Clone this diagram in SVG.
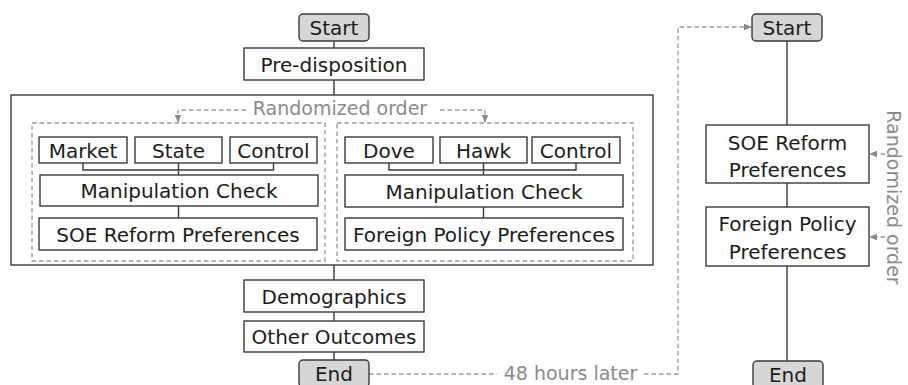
<svg xmlns="http://www.w3.org/2000/svg" width="908" height="385" viewBox="0 0 908 385">
<style>
.box{fill:#fff;stroke:#3a3a3a;stroke-width:1.4}
.term{fill:#d6d6d6;stroke:#3a3a3a;stroke-width:1.4}
.dbox{fill:none;stroke:#9a9a9a;stroke-width:1.3;stroke-dasharray:4.5 3}
.t{font-family:"DejaVu Sans",sans-serif;font-size:20px;fill:#1c1c1c;text-anchor:middle}
.g{font-family:"DejaVu Sans",sans-serif;font-size:19px;fill:#8a8a8a;text-anchor:middle}
.ln{fill:none;stroke:#3a3a3a;stroke-width:1.4}
.dl{fill:none;stroke:#9a9a9a;stroke-width:1.3;stroke-dasharray:4.5 3}
</style>
<defs>
<marker id="ah" viewBox="0 0 8 8" refX="7" refY="4" markerWidth="8" markerHeight="8" markerUnits="userSpaceOnUse" orient="auto">
<path d="M0,0.8 L8,4 L0,7.2 Z" fill="#8a8a8a"/>
</marker>
</defs>

<g id="outer-block">
<rect class="box" x="11" y="95" width="642" height="170"/>
</g>
<g id="group-left">
<rect class="dbox" x="32" y="123" width="293" height="138"/>
</g>
<g id="group-right">
<rect class="dbox" x="337" y="123" width="296" height="138"/>
</g>

<g id="connectors">
<path class="ln" d="M334,41 V48 M334,80 V95 M334,265 V280 M334,312 V321 M334,352 V360"/>
<path class="ln" d="M83,163 V170 H273.5 V163 M178.5,163 V175 M178.5,206 V218"/>
<path class="ln" d="M389,163 V170 H576 V163 M483.5,163 V175 M483.5,207 V218"/>
<path class="ln" d="M787,41 V125 M787,183 V207 M787,266 V361"/>
<path class="dl" d="M246,110 H178 V122" marker-end="url(#ah)"/>
<path class="dl" d="M440,110 H485 V122" marker-end="url(#ah)"/>
<path class="dl" d="M369,374 H497"/>
<path class="dl" d="M644,374 H678 V27 H751" marker-end="url(#ah)"/>
<path class="dl" d="M885,154 H870" marker-end="url(#ah)"/>
<path class="dl" d="M885,237 H870" marker-end="url(#ah)"/>
</g>

<g id="label-randomized-top"><text class="g" x="340" y="115">Randomized order</text></g>
<g id="label-48h"><text class="g" x="570.5" y="380">48 hours later</text></g>
<g id="label-randomized-right"><text class="g" x="0" y="0" transform="translate(887,197.5) rotate(90)">Randomized order</text></g>

<g id="start-left"><rect class="term" x="299" y="14" width="70" height="27" rx="4"/><text class="t" x="334" y="35">Start</text></g>
<g id="predisposition"><rect class="box" x="244" y="48" width="180" height="32"/><text class="t" x="334" y="71.5">Pre-disposition</text></g>

<g id="market"><rect class="box" x="39" y="137" width="88" height="26"/><text class="t" x="83" y="157.5">Market</text></g>
<g id="state"><rect class="box" x="135" y="137" width="87" height="26"/><text class="t" x="178.5" y="157.5">State</text></g>
<g id="control-left"><rect class="box" x="230" y="137" width="87" height="26"/><text class="t" x="273.5" y="157.5">Control</text></g>
<g id="manip-left"><rect class="box" x="40" y="175" width="278" height="31"/><text class="t" x="179" y="198">Manipulation Check</text></g>
<g id="soe-left"><rect class="box" x="39" y="218" width="278" height="32"/><text class="t" x="178" y="241.5">SOE Reform Preferences</text></g>

<g id="dove"><rect class="box" x="345" y="137" width="88" height="26"/><text class="t" x="389" y="157.5">Dove</text></g>
<g id="hawk"><rect class="box" x="440" y="137" width="87" height="26"/><text class="t" x="483.5" y="157.5">Hawk</text></g>
<g id="control-right"><rect class="box" x="532" y="137" width="88" height="26"/><text class="t" x="576" y="157.5">Control</text></g>
<g id="manip-right"><rect class="box" x="345" y="175" width="278" height="32"/><text class="t" x="484" y="198.5">Manipulation Check</text></g>
<g id="fp-left"><rect class="box" x="345" y="218" width="278" height="32"/><text class="t" x="484" y="241.5">Foreign Policy Preferences</text></g>

<g id="demographics"><rect class="box" x="244" y="280" width="180" height="32"/><text class="t" x="334" y="303.5">Demographics</text></g>
<g id="other-outcomes"><rect class="box" x="244" y="321" width="180" height="31"/><text class="t" x="334" y="344">Other Outcomes</text></g>
<g id="end-left"><rect class="term" x="299" y="360" width="70" height="27" rx="4"/><text class="t" x="334" y="380.5">End</text></g>

<g id="start-right"><rect class="term" x="752" y="14" width="70" height="27" rx="4"/><text class="t" x="787" y="35">Start</text></g>
<g id="soe-right"><rect class="box" x="706" y="125" width="163" height="58"/><text class="t" x="787.5" y="149.5">SOE Reform</text><text class="t" x="787.5" y="176.5">Preferences</text></g>
<g id="fp-right"><rect class="box" x="706" y="207" width="163" height="59"/><text class="t" x="787.5" y="230.5">Foreign Policy</text><text class="t" x="787.5" y="258.5">Preferences</text></g>
<g id="end-right"><rect class="term" x="753" y="361" width="70" height="27" rx="4"/><text class="t" x="788" y="381.5">End</text></g>
</svg>
